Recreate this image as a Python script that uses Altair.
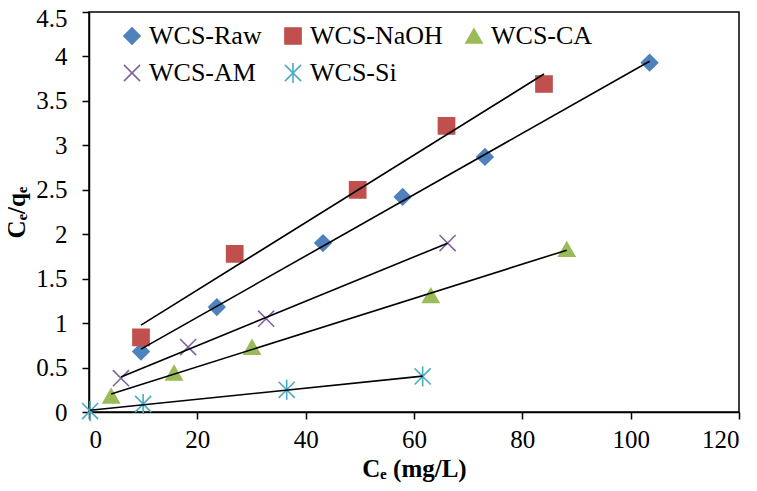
import altair as alt
import pandas as pd

series_names = ["WCS-Raw", "WCS-NaOH", "WCS-CA", "WCS-AM", "WCS-Si"]
colors = ["#4F81BD", "#C0504D", "#9BBB59", "#8064A2", "#4BACC6"]

raw_x = [9.6, 23.6, 43.2, 57.9, 73.1, 103.5]
raw_y = [0.68, 1.18, 1.90, 2.42, 2.87, 3.93]
naoh_x = [9.6, 26.9, 49.6, 66.0, 84.0]
naoh_y = [0.84, 1.78, 2.50, 3.22, 3.69]
ca_x = [4.1, 15.7, 30.1, 63.1, 88.2]
ca_y = [0.18, 0.44, 0.73, 1.31, 1.83]
am_x = [5.9, 18.3, 32.7, 66.2]
am_y = [0.38, 0.73, 1.05, 1.90]
si_x = [0.2, 10.0, 36.5, 61.6]
si_y = [0.01, 0.09, 0.25, 0.40]

x_ticks = [0, 20, 40, 60, 80, 100, 120]
y_ticks = [0, 0.5, 1, 1.5, 2, 2.5, 3, 3.5, 4, 4.5]

rows = []
for name, xs, ys in zip(series_names,
                        [raw_x, naoh_x, ca_x, am_x, si_x],
                        [raw_y, naoh_y, ca_y, am_y, si_y]):
    for xv, yv in zip(xs, ys):
        rows.append({"series": name, "x": xv, "y": yv})
df = pd.DataFrame(rows)

x_path = "M-1,-1L1,1M1,-1L-1,1"
star_path = "M-1,-1L1,1M1,-1L-1,1M0,-1.25L0,1.25"
shapes = ["diamond", "square", "triangle-up", x_path, star_path]
fills = ["#4F81BD", "#C0504D", "#9BBB59", "transparent", "transparent"]

FONT = "Liberation Serif"

xscale = alt.Scale(domain=[0, 120], nice=False)
yscale = alt.Scale(domain=[0, 4.5], nice=False)

xaxis = alt.Axis(values=x_ticks, title="Cₑ (mg/L)", grid=False, format="~g",
                 labelPadding=8, titlePadding=4)
yaxis = alt.Axis(values=y_ticks, title="Cₑ/qₑ", grid=False, format="~g",
                 labelPadding=15, titlePadding=6,
                 labelOffset={"condition": {"test": "datum.value == 4.5", "value": 6}, "value": 0})

points = alt.Chart(df).mark_point(size=260, strokeWidth=1.6, opacity=1).encode(
    x=alt.X("x:Q", scale=xscale, axis=xaxis),
    y=alt.Y("y:Q", scale=yscale, axis=yaxis),
    color=alt.Color("series:N", scale=alt.Scale(domain=series_names, range=colors),
                    legend=alt.Legend(title=None, orient="none", legendX=30, legendY=11,
                                      direction="horizontal",
                                      columns=3, columnPadding=18, rowPadding=10,
                                      labelFont=FONT, labelFontSize=26, labelColor="black",
                                      symbolSize=260, symbolStrokeWidth=1.6, labelOffset=4,
                                      padding=0)),
    fill=alt.Fill("series:N", scale=alt.Scale(domain=series_names, range=fills), legend=None),
    shape=alt.Shape("series:N", scale=alt.Scale(domain=series_names, range=shapes), legend=None),
)

lines = alt.Chart(df).transform_regression(
    "x", "y", groupby=["series"]
).mark_line(color="black", strokeWidth=1.6).encode(
    x=alt.X("x:Q", scale=xscale),
    y=alt.Y("y:Q", scale=yscale),
    detail="series:N",
)

chart = alt.layer(points, lines).properties(
    width=650, height=400,
    autosize=alt.AutoSizeParams(type="none"),
    padding={"left": 81, "top": 4, "right": 10, "bottom": 71},
    background="white",
).configure_view(
    stroke="black", strokeWidth=1.5
).configure_axis(
    domainColor="black", domainWidth=1.5, tickColor="black", tickWidth=1.5, tickSize=7,
    labelFont=FONT, labelFontSize=25, labelColor="black",
    titleFont=FONT, titleFontSize=25, titleFontWeight="bold", titleColor="black",
)

chart.save("out.html", embed_options={"renderer": "svg", "actions": False})
